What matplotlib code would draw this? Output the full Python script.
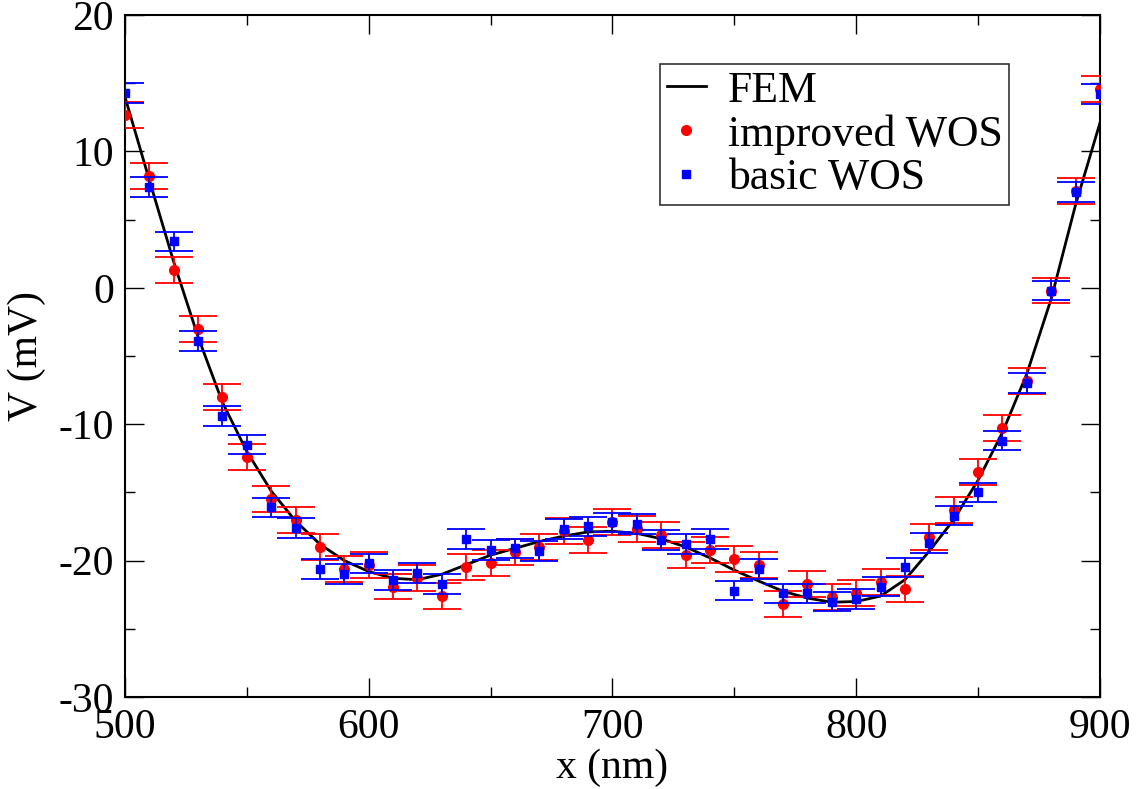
import matplotlib
matplotlib.use("Agg")
import matplotlib.pyplot as plt
from matplotlib.lines import Line2D
from matplotlib.ticker import MultipleLocator

plt.rcParams['font.family'] = ['Liberation Serif', 'DejaVu Serif']
plt.rcParams['axes.unicode_minus'] = False

# sample positions (nm)
x_nm = [500, 510, 520, 530, 540, 550, 560, 570, 580, 590,
        600, 610, 620, 630, 640, 650, 660, 670, 680, 690,
        700, 710, 720, 730, 740, 750, 760, 770, 780, 790,
        800, 810, 820, 830, 840, 850, 860, 870, 880, 890, 900]

# FEM reference curve (mV)
fem = [14.0, 7.9, 1.9, -3.6, -8.4, -12.0, -14.9, -17.1, -18.8, -20.0,
       -20.8, -21.3, -21.4, -21.0, -20.3, -19.6, -19.1, -18.6, -18.2, -17.9,
       -17.85, -18.0, -18.4, -19.0, -19.8, -20.7, -21.5, -22.25, -22.75, -23.05,
       -23.0, -22.6, -21.4, -19.3, -17.0, -14.1, -10.6, -6.3, -0.8, 6.1, 12.1]

# improved WOS (mV)
improved = [12.7, 8.2, 1.3, -3.0, -8.0, -12.4, -15.5, -17.0, -19.0, -20.6,
            -20.3, -21.9, -21.3, -22.6, -20.5, -20.2, -19.4, -19.0, -17.8, -18.5,
            -17.2, -17.7, -18.1, -19.6, -19.2, -19.9, -20.3, -23.2, -21.7, -22.7,
            -22.4, -21.6, -22.1, -18.3, -16.3, -13.5, -10.3, -6.8, -0.2, 7.1, 14.6]

# basic WOS (mV)
basic = [14.3, 7.4, 3.4, -3.9, -9.4, -11.5, -16.1, -17.6, -20.6, -21.0,
         -20.2, -21.4, -20.9, -21.7, -18.4, -19.2, -19.1, -19.3, -17.7, -17.5,
         -17.2, -17.3, -18.5, -18.8, -18.4, -22.2, -20.6, -22.4, -22.4, -23.0,
         -22.8, -21.9, -20.5, -18.7, -16.7, -15.0, -11.2, -7.0, -0.2, 7.0, 14.2]

improved_err = 0.95
basic_err = 0.72

fig = plt.figure(figsize=(11.36, 7.89), dpi=100)
ax = fig.add_axes([0.110, 0.1166, 0.8583, 0.8644])

ax.plot(x_nm, fem, color='black', lw=2.0, label='FEM', zorder=3)
ax.errorbar(x_nm, improved, yerr=improved_err, fmt='o', color='red', ms=7,
            elinewidth=1.3, capsize=13.5, capthick=1.3, label='improved WOS', zorder=4)
ax.errorbar(x_nm, basic, yerr=basic_err, fmt='s', color='blue', ms=6.3,
            elinewidth=1.3, capsize=13.5, capthick=1.3, label='basic WOS', zorder=5)

ax.set_xlim(500, 900)
ax.set_ylim(-30, 20)
ax.xaxis.set_major_locator(MultipleLocator(100))
ax.xaxis.set_minor_locator(MultipleLocator(50))
ax.yaxis.set_major_locator(MultipleLocator(10))
ax.yaxis.set_minor_locator(MultipleLocator(5))
ax.tick_params(which='both', direction='in', top=True, right=True, width=1.0,
               labelsize=30, pad=8)
ax.tick_params(which='major', length=14)
ax.tick_params(which='minor', length=7)
for s in ax.spines.values():
    s.set_linewidth(1.5)

ax.set_xlabel('x (nm)', fontsize=30, labelpad=1)
ax.set_ylabel('V (mV)', fontsize=30, labelpad=9)

labels = ['FEM', 'improved WOS', 'basic WOS']
h = [Line2D([], [], color='black', lw=2.0),
     Line2D([], [], marker='o', ls='none', color='red', ms=7),
     Line2D([], [], marker='s', ls='none', color='blue', ms=6)]
leg = ax.legend(h, labels, loc='upper right', bbox_to_anchor=(0.907, 0.928),
                fontsize=31.5, frameon=True, fancybox=False, edgecolor='black',
                handlelength=0.9, handletextpad=0.5, borderpad=0.15,
                labelspacing=0.08, borderaxespad=0.0)
leg.get_frame().set_linewidth(1.2)

fig.savefig('out.png', dpi=100)
